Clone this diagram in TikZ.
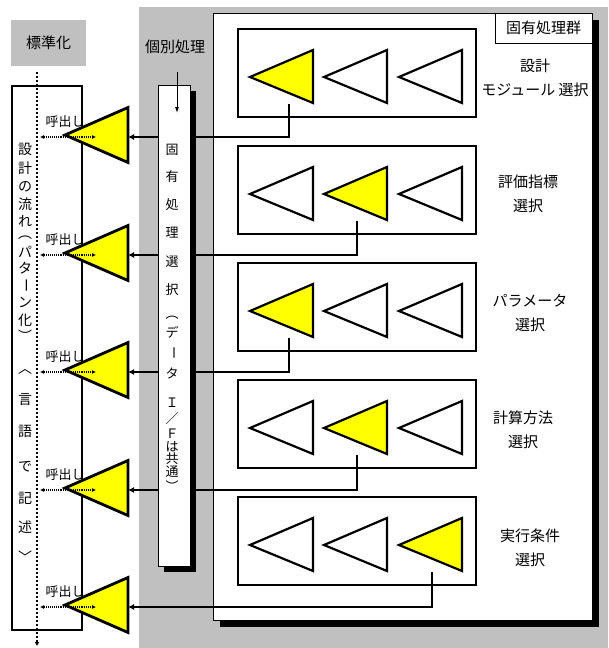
\documentclass[tikz,border=0pt]{standalone}
\usepackage{fontspec}
\newfontfamily\jp{Noto Sans CJK JP}
\usetikzlibrary{arrows.meta}
\definecolor{greybg}{RGB}{192,192,192}
\definecolor{yel}{RGB}{255,255,0}
\tikzset{
  jpnode/.style={inner sep=0pt, outer sep=0pt},
  lbl/.style={jpnode, font=\jp\fontsize{15}{24}\selectfont, align=center},
  vchM/.style={jpnode, font=\jp\fontsize{13}{13}\selectfont},
  vchL/.style={jpnode, font=\jp\fontsize{14}{14}\selectfont},
  calltext/.style={jpnode, font=\jp\fontsize{13}{13}\selectfont},
  headtext/.style={jpnode, font=\jp\fontsize{15}{15}\selectfont},
  innerbox/.style={draw=black, line width=1.6pt, fill=white, inner sep=0pt, minimum width=238, minimum height=88},
  tri/.style={draw=black, line width=2.2pt, fill=white},
  ltri/.style={draw=black, line width=2.8pt, fill=yel},
  conn/.style={draw=black, line width=1.3pt, -{Latex[length=6pt,width=6pt]}},
  callarrow/.style={draw=black, line width=1.1pt, densely dotted, {Latex[length=4pt,width=4pt]}-{Latex[length=4pt,width=4pt]}},
  shadowbox/.style={fill=black},
}
\begin{document}
\begin{tikzpicture}[x=1pt,y=-1pt]
\useasboundingbox (0,0) rectangle (608,648);
\fill[white] (0,0) rectangle (608,648);
\fill[greybg] (139,7) rectangle (608,648);
% standardization header
\node[headtext, fill=greybg, minimum width=75, minimum height=46] (std) at (48.5,43) {標準化};
% left flow box
\node[draw=black, line width=1.5pt, fill=white, minimum width=70, minimum height=544, inner sep=0pt] (flow) at (47,358) {};
\coordinate (vtop) at (37,72);
\coordinate (vbot) at (37,646);
\draw[line width=2.4pt, dash pattern=on 2pt off 2pt, -{Latex[length=4pt,width=5pt]}] (vtop) -- (vbot);
% left vertical text
\foreach \c/\yy/\r [count=\i] in {設/149/0, 計/168/0, の/187/0, 流/204/0, れ/221/0, ︵/238/0, パ/252/0, タ/268/0, ー/285/-90, ン/302/0, 化/320/0, ︶/336/0, ︿/372/0, 言/400/0, 語/431/0, で/467/0, 記/498/0, 述/527/0, ﹀/557/0}
  \node[vchL, rotate=\r] (fl\i) at (25,\yy) {\c};
% call labels, left triangles, dotted call arrows
\foreach \k/\ly in {1/137,2/255,3/372,4/490,5/607} {
  \node[calltext] (call\k) at (65,\ly-15) {呼出し};
  \draw[ltri] (128,\ly-29.5) -- (65,\ly-2) -- (128,\ly+25.5) -- cycle;
  \coordinate (L\k) at (128,\ly);
  \coordinate (dl\k) at (40,\ly);
  \coordinate (dr\k) at (96,\ly);
  \draw[callarrow] (dl\k) -- (dr\k);
}
% right panel
\fill[shadowbox] (220,20) rectangle (599,627);
\node[draw=black, line width=0.8pt, fill=white, minimum width=379, minimum height=607, inner sep=0pt] (panel) at (402.5,316.5) {};
\node[headtext, draw=black, line width=0.8pt, fill=white, minimum width=97, minimum height=30] (grp) at (543.5,28) {固有処理群};
% inner boxes with triangles
\foreach \k/\T/\Y/\sx in {1/29/1/289, 2/146/2/357, 3/263/1/289, 4/380/2/357, 5/497/3/432} {
  \node[innerbox] (box\k) at (357,\T+44) {};
  \foreach \j/\tx in {1/250,2/324,3/399} {
    \ifnum\j=\Y\relax \def\fc{yel}\else \def\fc{white}\fi
    \draw[tri, fill=\fc] (\tx+63,\T+21) -- (\tx,\T+48) -- (\tx+63,\T+74) -- cycle;
  }
  \coordinate (src\k) at (\sx,\T+75);
}
\node[lbl] (lab1) at (535,77.5) {設計\\モジュール 選択};
\node[lbl] (lab2) at (528,194) {評価指標\\選択};
\node[lbl] (lab3) at (530,313.5) {パラメータ\\選択};
\node[lbl] (lab4) at (523,430) {計算方法\\選択};
\node[lbl] (lab5) at (530,547.5) {実行条件\\選択};
% connectors
\foreach \k in {1,...,5}
  \draw[conn] (src\k) |- (L\k);
% middle selection box
\fill[shadowbox] (164,91) rectangle (196,572);
\node[draw=black, line width=0.8pt, fill=white, minimum width=32, minimum height=481, inner sep=0pt] (sel) at (174,325.5) {};
\foreach \c/\yy/\r [count=\i] in {固/150/0, 有/177/0, 処/205/0, 理/233/0, 選/262/0, 択/290/0, ︵/318/0, デ/332/0, ー/353/-90, タ/373/0, Ｉ/403/0, ／/419/0, Ｆ/434/0, は/447/0, 共/459/0, 通/472/0, ︶/486/0}
  \node[vchM, rotate=\r] (ms\i) at (172,\yy) {\c};
% individual processing header and arrow
\node[headtext] (indiv) at (175,47) {個別処理};
\coordinate (ia) at (177,72);
\coordinate (ib) at (177,113);
\draw[line width=0.9pt, -{Latex[length=6pt,width=4pt]}] (ia) -- (ib);
\end{tikzpicture}
\end{document}
